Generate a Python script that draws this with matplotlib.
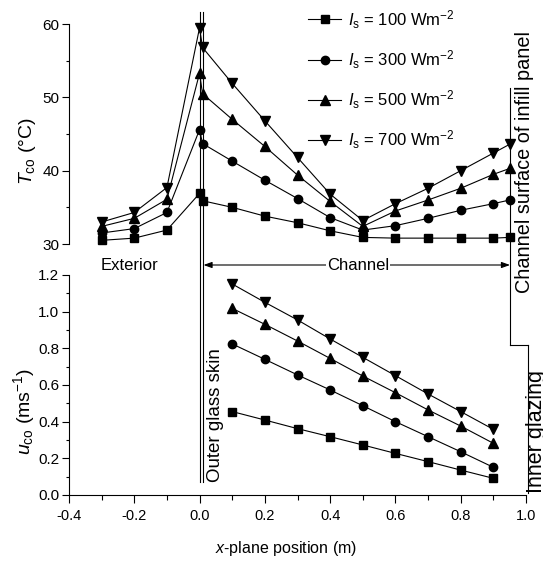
import matplotlib
matplotlib.use('Agg')
import matplotlib.pyplot as plt
from matplotlib.ticker import MultipleLocator, FormatStrFormatter
from matplotlib.transforms import blended_transform_factory
from matplotlib.lines import Line2D

# ---------------- data ----------------
series_labels = [r'$I_{\mathrm{s}}$ = 100 Wm$^{-2}$', r'$I_{\mathrm{s}}$ = 300 Wm$^{-2}$',
                 r'$I_{\mathrm{s}}$ = 500 Wm$^{-2}$', r'$I_{\mathrm{s}}$ = 700 Wm$^{-2}$']
series_markers = ['s', 'o', '^', 'v']

x_T = [-0.3, -0.2, -0.1, 0.0, 0.009, 0.1, 0.2, 0.3, 0.4, 0.5, 0.6, 0.7, 0.8, 0.9, 0.95]
T100 = [30.5, 30.8, 31.9, 36.9, 35.9, 35.0, 33.8, 32.9, 31.8, 30.9, 30.8, 30.8, 30.8, 30.8, 30.9]
T300 = [31.5, 32.1, 34.3, 45.6, 43.7, 41.3, 38.7, 36.2, 33.6, 31.9, 32.5, 33.5, 34.6, 35.5, 36.0]
T500 = [32.4, 33.5, 36.1, 53.3, 50.5, 47.0, 43.3, 39.4, 35.8, 32.4, 34.5, 36.0, 37.6, 39.5, 40.3]
T700 = [33.0, 34.3, 37.7, 59.5, 56.8, 51.9, 46.8, 41.8, 36.8, 33.2, 35.5, 37.6, 40.0, 42.4, 43.6]

x_u = [0.1, 0.2, 0.3, 0.4, 0.5, 0.6, 0.7, 0.8, 0.9]
u100 = [0.455, 0.409, 0.362, 0.318, 0.273, 0.227, 0.182, 0.136, 0.091]
u300 = [0.824, 0.740, 0.655, 0.573, 0.487, 0.400, 0.318, 0.236, 0.151]
u500 = [1.018, 0.931, 0.840, 0.745, 0.649, 0.558, 0.464, 0.376, 0.282]
u700 = [1.151, 1.051, 0.955, 0.851, 0.751, 0.651, 0.551, 0.455, 0.358]

x_ticks = [-0.4, -0.2, 0.0, 0.2, 0.4, 0.6, 0.8, 1.0]
T_ticks = [30, 40, 50, 60]
u_ticks = [0.0, 0.2, 0.4, 0.6, 0.8, 1.0, 1.2]

glass_x = [0.0, 0.009]     # outer glass skin (two faces)
wall_x = 0.951              # channel surface of infill panel
inner_x = 1.005             # inner glazing

# ---------------- style ----------------
plt.rcParams['font.family'] = ['Liberation Sans', 'DejaVu Sans']
plt.rcParams['mathtext.fontset'] = 'custom'
plt.rcParams['mathtext.rm'] = 'Liberation Sans'
plt.rcParams['mathtext.it'] = 'Liberation Sans:italic'
plt.rcParams['mathtext.bf'] = 'Liberation Sans:bold'
plt.rcParams['axes.unicode_minus'] = False

W, H, DPI = 543, 565, 100
fig = plt.figure(figsize=(W / DPI, H / DPI), dpi=DPI)


def fx(px):
    return px / W


def fy(py):
    return 1 - py / H


ax1 = fig.add_axes([fx(69), fy(244), fx(526) - fx(69), fy(24) - fy(244)])
ax2 = fig.add_axes([fx(69), fy(495), fx(526) - fx(69), fy(275) - fy(495)])

msizes = {'s': 5.5, 'o': 6.0, '^': 7.0, 'v': 7.0}
lw = 0.8

for ys, m, lab in zip([T100, T300, T500, T700], series_markers, series_labels):
    ax1.plot(x_T, ys, color='black', lw=lw, marker=m, ms=msizes[m],
             mfc='black', mec='black', label=lab, clip_on=False)
for ys, m in zip([u100, u300, u500, u700], series_markers):
    ax2.plot(x_u, ys, color='black', lw=lw, marker=m, ms=msizes[m],
             mfc='black', mec='black', clip_on=False)

for ax in (ax1, ax2):
    ax.set_xlim(-0.4, 1.0)
    ax.spines['top'].set_visible(False)
    ax.spines['right'].set_visible(False)
    for s in ax.spines.values():
        s.set_linewidth(0.8)
    ax.patch.set_alpha(0)

ax1.spines['bottom'].set_visible(False)
ax1.tick_params(axis='x', which='both', bottom=False, labelbottom=False)
ax1.set_ylim(30, 60)
ax1.set_yticks(T_ticks)
ax1.yaxis.set_minor_locator(MultipleLocator(5))

ax2.set_ylim(0, 1.2)
ax2.set_yticks(u_ticks)
ax2.yaxis.set_major_formatter(FormatStrFormatter('%.1f'))
ax2.yaxis.set_minor_locator(MultipleLocator(0.1))
ax2.set_xticks(x_ticks)
ax2.xaxis.set_major_formatter(FormatStrFormatter('%.1f'))
ax2.xaxis.set_minor_locator(MultipleLocator(0.1))

for ax in (ax1, ax2):
    ax.tick_params(axis='y', which='major', length=5, width=0.8, labelsize=11, pad=2, direction='out')
    ax.tick_params(axis='y', which='minor', length=2.5, width=0.8, direction='out')
ax2.tick_params(axis='x', which='major', length=6, width=0.8, labelsize=10.5, pad=4, direction='out')
ax2.tick_params(axis='x', which='minor', length=3.5, width=0.8, direction='out')

# ---------------- structure lines ----------------
trans = blended_transform_factory(ax2.transData, fig.transFigure)
for gx in glass_x:
    fig.add_artist(Line2D([gx, gx], [fy(12), fy(482)], transform=trans, color='black', lw=0.8))
fig.add_artist(Line2D([wall_x, wall_x], [fy(88), fy(345)], transform=trans, color='black', lw=0.8))
fig.add_artist(Line2D([wall_x, inner_x], [fy(345), fy(345)], transform=trans, color='black', lw=0.8))
fig.add_artist(Line2D([inner_x, inner_x], [fy(345), fy(493)], transform=trans, color='black', lw=0.8))

# channel arrow
ax2.annotate('', xy=(glass_x[1] + 0.003, fy(265)), xytext=(wall_x, fy(265)),
             xycoords=trans, textcoords=trans, annotation_clip=False,
             arrowprops=dict(arrowstyle='<|-|>,head_length=0.5,head_width=0.18',
                             color='black', lw=0.8, shrinkA=0, shrinkB=0,
                             mutation_scale=10))
fig.text(fx(358), fy(265), 'Channel', ha='center', va='center', fontsize=12,
         bbox=dict(facecolor='white', edgecolor='none', pad=0.5))
fig.text(fx(129), fy(265), 'Exterior', ha='center', va='center', fontsize=12)

fig.text(fx(220), fy(482), 'Outer glass skin', rotation=90, rotation_mode='anchor',
         ha='left', va='baseline', fontsize=13.5)
fig.text(fx(530), fy(293), 'Channel surface of infill panel', rotation=90,
         rotation_mode='anchor', ha='left', va='baseline', fontsize=14.3)
fig.text(fx(542), fy(493), 'Inner glazing', rotation=90, rotation_mode='anchor',
         ha='left', va='baseline', fontsize=15.5)

# axis labels
fig.text(fx(32), fy(151), r'$T_{\mathrm{co}}$ (°C)', rotation=90, rotation_mode='anchor',
         ha='center', va='baseline', fontsize=14)
fig.text(fx(30), fy(411), r'$u_{\mathrm{co}}$ (ms$^{-1}$)', rotation=90, rotation_mode='anchor',
         ha='center', va='baseline', fontsize=14)
fig.text(fx(286), fy(548), r'$x$-plane position (m)', ha='center', va='center',
         fontsize=11.5)

# legend
ax1.legend(loc='upper left', bbox_to_anchor=(fx(308), fy(8)), bbox_transform=fig.transFigure,
           frameon=False, handlelength=2.0, handletextpad=0.4, labelspacing=1.05,
           borderpad=0, borderaxespad=0, fontsize=12)

fig.savefig('out.png', dpi=DPI)
